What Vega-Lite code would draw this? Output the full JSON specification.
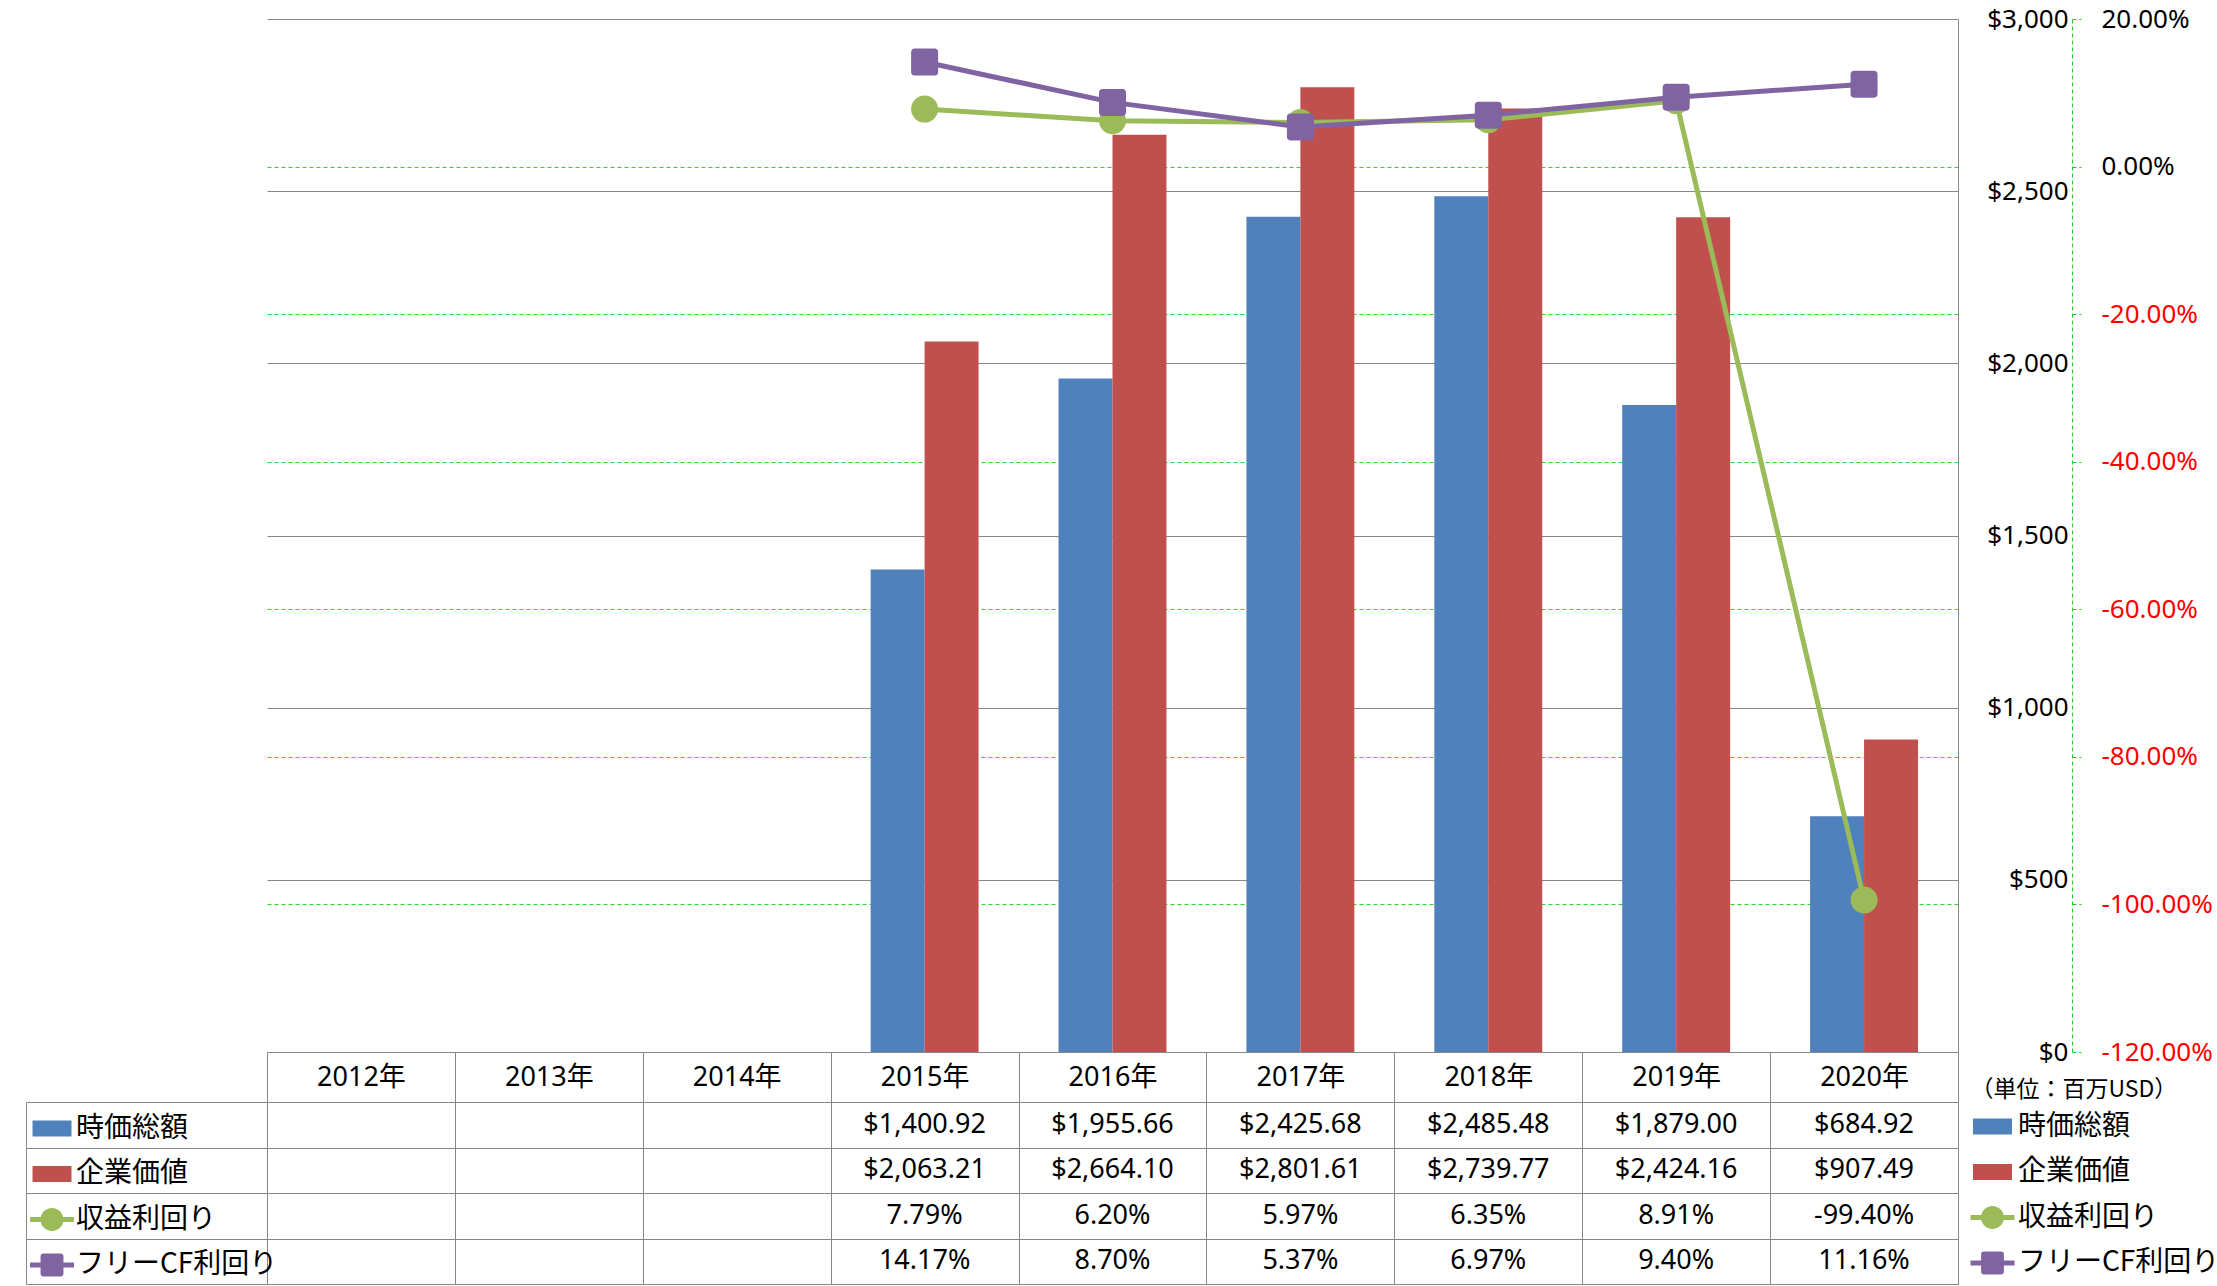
{
  "$schema": "https://vega.github.io/schema/vega-lite/v6.json",
  "background": "white",
  "padding": {"left": 25, "top": 6, "right": 0, "bottom": 0},
  "datasets": {
    "d": [
      {"year": "2015年", "series": "時価総額", "value": 1400.92},
      {"year": "2015年", "series": "企業価値", "value": 2063.21},
      {"year": "2015年", "series": "収益利回り", "value": 0.0779},
      {"year": "2015年", "series": "フリーCF利回り", "value": 0.1417},
      {"year": "2016年", "series": "時価総額", "value": 1955.66},
      {"year": "2016年", "series": "企業価値", "value": 2664.10},
      {"year": "2016年", "series": "収益利回り", "value": 0.0620},
      {"year": "2016年", "series": "フリーCF利回り", "value": 0.0870},
      {"year": "2017年", "series": "時価総額", "value": 2425.68},
      {"year": "2017年", "series": "企業価値", "value": 2801.61},
      {"year": "2017年", "series": "収益利回り", "value": 0.0597},
      {"year": "2017年", "series": "フリーCF利回り", "value": 0.0537},
      {"year": "2018年", "series": "時価総額", "value": 2485.48},
      {"year": "2018年", "series": "企業価値", "value": 2739.77},
      {"year": "2018年", "series": "収益利回り", "value": 0.0635},
      {"year": "2018年", "series": "フリーCF利回り", "value": 0.0697},
      {"year": "2019年", "series": "時価総額", "value": 1879.00},
      {"year": "2019年", "series": "企業価値", "value": 2424.16},
      {"year": "2019年", "series": "収益利回り", "value": 0.0891},
      {"year": "2019年", "series": "フリーCF利回り", "value": 0.0940},
      {"year": "2020年", "series": "時価総額", "value": 684.92},
      {"year": "2020年", "series": "企業価値", "value": 907.49},
      {"year": "2020年", "series": "収益利回り", "value": -0.9940},
      {"year": "2020年", "series": "フリーCF利回り", "value": 0.1116}
    ]
  },
  "spacing": 50,
  "bounds": "flush",
  "resolve": {"scale": {"color": "independent", "shape": "independent"}},
  "vconcat": [
    {
      "width": 1691,
      "height": 1033,
      "data": {"name": "d"},
      "resolve": {"scale": {"y": "independent"}},
      "layer": [
        {
          "transform": [{"filter": {"field": "series", "oneOf": ["時価総額", "企業価値"]}}],
          "mark": {"type": "bar"},
          "encoding": {
            "x": {
              "field": "year", "type": "nominal",
              "scale": {"type": "band", "domain": ["2012年", "2013年", "2014年", "2015年", "2016年", "2017年", "2018年", "2019年", "2020年"], "paddingInner": 0, "paddingOuter": 0},
              "axis": {"orient": "bottom", "title": null, "tickBand": "extent", "ticks": true, "tickSize": 50, "tickColor": "#868686", "tickWidth": 1, "domain": true, "domainColor": "#868686", "domainWidth": 1, "labelPadding": -25, "labelBaseline": "middle", "labelAngle": 0, "labelFont": "Noto Sans, Noto Sans CJK JP", "labelFontSize": 27, "labelColor": "#000000", "grid": false}
            },
            "xOffset": {"field": "series", "type": "nominal", "scale": {"domain": ["時価総額", "企業価値"], "paddingInner": 0, "paddingOuter": 0.741}},
            "y": {
              "field": "value", "type": "quantitative",
              "scale": {"domain": [0, 3000], "nice": false, "zero": true},
              "axis": {"orient": "right", "title": null, "values": [0, 500, 1000, 1500, 2000, 2500, 3000], "format": "$,.0f", "labelAlign": "right", "labelBaseline": "middle", "labelPadding": 110, "ticks": false, "domain": true, "domainColor": "#868686", "domainWidth": 1, "grid": true, "gridColor": "#868686", "gridWidth": 1, "labelFont": "Noto Sans", "labelFontSize": 26, "labelColor": "#000000", "labelFlush": false, "labelOverlap": false}
            },
            "fill": {"field": "series", "type": "nominal", "scale": {"domain": ["時価総額", "企業価値"], "range": ["#4F81BD", "#C0504D"]}, "legend": null}
          }
        },
        {
          "layer": [
            {
              "transform": [{"filter": {"field": "series", "equal": "収益利回り"}}],
              "mark": {"type": "line", "color": "#9BBB59", "strokeWidth": 5},
              "encoding": {
                "x": {"field": "year", "type": "nominal"},
                "y": {
                  "field": "value", "type": "quantitative",
                  "scale": {"domain": [-1.2, 0.2], "nice": false, "zero": false},
                  "axis": {"orient": "right", "offset": 114, "title": null, "values": [-1.2, -1, -0.8, -0.6, -0.4, -0.2, 0, 0.2], "format": ".2%", "labelAlign": "left", "labelBaseline": "middle", "labelPadding": 20, "ticks": true, "tickSize": 9, "tickColor": "#22CC22", "tickDash": [4, 3], "domain": true, "domainColor": "#22CC22", "domainDash": [4, 3], "grid": true, "gridColor": "#22DD22", "gridDash": [4, 3], "gridWidth": 1, "gridOpacity": {"expr": "(datum.value > 0.1 || datum.value < -1.1) ? 0 : 1"}, "labelColor": {"expr": "datum.value < 0 ? '#FF0000' : '#000000'"}, "labelFont": "Noto Sans", "labelFontSize": 26, "labelFlush": false, "labelOverlap": false}
                }
              }
            },
            {
              "transform": [{"filter": {"field": "series", "equal": "収益利回り"}}],
              "mark": {"type": "point", "shape": "circle", "filled": true, "size": 729, "opacity": 1, "color": "#9BBB59"},
              "encoding": {
                "x": {"field": "year", "type": "nominal"},
                "y": {"field": "value", "type": "quantitative"}
              }
            },
            {
              "transform": [{"filter": {"field": "series", "equal": "フリーCF利回り"}}],
              "mark": {"type": "line", "color": "#8064A2", "strokeWidth": 5},
              "encoding": {
                "x": {"field": "year", "type": "nominal"},
                "y": {"field": "value", "type": "quantitative"}
              }
            },
            {
              "transform": [{"filter": {"field": "series", "equal": "フリーCF利回り"}}],
              "mark": {"type": "point", "shape": "M-0.75,-1H0.75A0.25,0.25 0 0 1 1,-0.75V0.75A0.25,0.25 0 0 1 0.75,1H-0.75A0.25,0.25 0 0 1 -1,0.75V-0.75A0.25,0.25 0 0 1 -0.75,-1Z", "filled": true, "size": 729, "opacity": 1, "color": "#8064A2"},
              "encoding": {
                "x": {"field": "year", "type": "nominal"},
                "y": {"field": "value", "type": "quantitative"}
              }
            },
            {
              "data": {"values": []},
              "mark": {"type": "point", "filled": true, "opacity": 1},
              "encoding": {
                "x": {"field": "year", "type": "nominal"},
                "y": {"field": "value", "type": "quantitative"},
                "color": {
                  "field": "series", "type": "nominal",
                  "scale": {"domain": ["時価総額", "企業価値", "収益利回り", "フリーCF利回り"], "range": ["#4F81BD", "#C0504D", "#9BBB59", "#8064A2"]},
                  "legend": {"orient": "none", "legendX": 1703.5, "legendY": 1059.5, "direction": "vertical", "title": "（単位：百万USD）", "titleFont": "Noto Sans CJK JP", "titleFontSize": 23, "titleFontWeight": "normal", "titleColor": "#000000", "titlePadding": 3, "titleLimit": 400, "labelFont": "Noto Sans CJK JP", "labelFontSize": 28, "labelColor": "#000000", "labelLimit": 400, "labelOffset": 3.5, "symbolSize": 1936, "symbolStrokeWidth": 0, "symbolOpacity": 1, "rowPadding": 9.5, "padding": 0}
                },
                "shape": {
                  "field": "series", "type": "nominal",
                  "scale": {"domain": ["時価総額", "企業価値", "収益利回り", "フリーCF利回り"], "range": ["M-0.886,-0.364H0.886V0.364H-0.886Z", "M-0.886,-0.364H0.886V0.364H-0.886Z", "M-1,-0.114H1V0.114H-1Z M0.52,0A0.52,0.52 0 1 1 -0.52,0A0.52,0.52 0 1 1 0.52,0Z", "M-1,-0.114H1V0.114H-1Z M-0.4,-0.52H0.4A0.12,0.12 0 0 1 0.52,-0.4V0.4A0.12,0.12 0 0 1 0.4,0.52H-0.4A0.12,0.12 0 0 1 -0.52,0.4V-0.4A0.12,0.12 0 0 1 -0.4,-0.52Z"]},
                  "legend": {"orient": "none", "legendX": 1703.5, "legendY": 1059.5, "direction": "vertical", "title": "（単位：百万USD）", "titleFont": "Noto Sans CJK JP", "titleFontSize": 23, "titleFontWeight": "normal", "titleColor": "#000000", "titlePadding": 3, "titleLimit": 400, "labelFont": "Noto Sans CJK JP", "labelFontSize": 28, "labelColor": "#000000", "labelLimit": 400, "labelOffset": 3.5, "symbolSize": 1936, "symbolStrokeWidth": 0, "symbolOpacity": 1, "rowPadding": 9.5, "padding": 0}
                }
              }
            }
          ]
        }
      ]
    },
    {
      "width": 1691,
      "height": 182,
      "data": {"name": "d"},
      "view": {"stroke": "#868686"},
      "resolve": {"scale": {"y": "independent"}},
      "layer": [
        {
          "layer": [
            {
              "transform": [{"filter": {"field": "series", "oneOf": ["時価総額", "企業価値"]}}],
              "mark": {"type": "text", "font": "Noto Sans", "fontSize": 27, "color": "#000000", "baseline": "middle", "align": "center"},
              "encoding": {
                "x": {
                  "field": "year", "type": "nominal",
                  "scale": {"type": "band", "domain": ["2012年", "2013年", "2014年", "2015年", "2016年", "2017年", "2018年", "2019年", "2020年"], "paddingInner": 0, "paddingOuter": 0},
                  "axis": {"orient": "top", "title": null, "labels": false, "ticks": false, "domain": false, "grid": true, "tickBand": "extent", "gridColor": "#868686", "gridWidth": 1}
                },
                "y": {
                  "field": "series", "type": "nominal",
                  "scale": {"type": "band", "domain": ["時価総額", "企業価値", "収益利回り", "フリーCF利回り"], "paddingInner": 0, "paddingOuter": 0},
                  "axis": {"orient": "left", "title": null, "labels": false, "ticks": true, "tickSize": 241, "tickBand": "extent", "tickColor": "#868686", "tickWidth": 1, "grid": true, "gridColor": "#868686", "gridWidth": 1, "domain": true, "domainColor": "#868686", "domainWidth": 1}
                },
                "text": {"field": "value", "type": "quantitative", "format": "$,.2f"}
              }
            },
            {
              "transform": [{"filter": {"field": "series", "oneOf": ["収益利回り", "フリーCF利回り"]}}],
              "mark": {"type": "text", "font": "Noto Sans", "fontSize": 27, "color": "#000000", "baseline": "middle", "align": "center"},
              "encoding": {
                "x": {"field": "year", "type": "nominal"},
                "y": {"field": "series", "type": "nominal"},
                "text": {"field": "value", "type": "quantitative", "format": ".2%"}
              }
            }
          ]
        },
        {
          "data": {"values": []},
          "mark": {"type": "point", "filled": true, "opacity": 1},
          "encoding": {
            "y": {
              "field": "series", "type": "nominal",
              "scale": {"type": "band", "domain": ["時価総額", "企業価値", "収益利回り", "フリーCF利回り"], "paddingInner": 0, "paddingOuter": 0},
              "axis": {"orient": "left", "offset": 241, "title": null, "labels": false, "ticks": false, "grid": false, "domain": true, "domainColor": "#868686", "domainWidth": 1}
            },
            "color": {
              "field": "series", "type": "nominal",
              "scale": {"domain": ["時価総額", "企業価値", "収益利回り", "フリーCF利回り"], "range": ["#4F81BD", "#C0504D", "#9BBB59", "#8064A2"]},
              "legend": {"orient": "none", "legendX": -237, "legendY": 4.5, "direction": "vertical", "title": null, "labelFont": "Noto Sans CJK JP", "labelFontSize": 28, "labelColor": "#000000", "labelLimit": 400, "labelOffset": 2, "symbolSize": 1936, "symbolStrokeWidth": 0, "symbolOpacity": 1, "rowPadding": 9.5, "padding": 0}
            },
            "shape": {
              "field": "series", "type": "nominal",
              "scale": {"domain": ["時価総額", "企業価値", "収益利回り", "フリーCF利回り"], "range": ["M-0.886,-0.364H0.886V0.364H-0.886Z", "M-0.886,-0.364H0.886V0.364H-0.886Z", "M-1,-0.114H1V0.114H-1Z M0.52,0A0.52,0.52 0 1 1 -0.52,0A0.52,0.52 0 1 1 0.52,0Z", "M-1,-0.114H1V0.114H-1Z M-0.4,-0.52H0.4A0.12,0.12 0 0 1 0.52,-0.4V0.4A0.12,0.12 0 0 1 0.4,0.52H-0.4A0.12,0.12 0 0 1 -0.52,0.4V-0.4A0.12,0.12 0 0 1 -0.4,-0.52Z"]},
              "legend": {"orient": "none", "legendX": -237, "legendY": 4.5, "direction": "vertical", "title": null, "labelFont": "Noto Sans CJK JP", "labelFontSize": 28, "labelColor": "#000000", "labelLimit": 400, "labelOffset": 2, "symbolSize": 1936, "symbolStrokeWidth": 0, "symbolOpacity": 1, "rowPadding": 9.5, "padding": 0}
            }
          }
        }
      ]
    }
  ],
  "config": {
    "view": {"stroke": null},
    "font": "Noto Sans",
    "locale": {"number": {"decimal": ".", "thousands": ",", "grouping": [3], "currency": ["$", ""], "minus": "-"}}
  }
}
